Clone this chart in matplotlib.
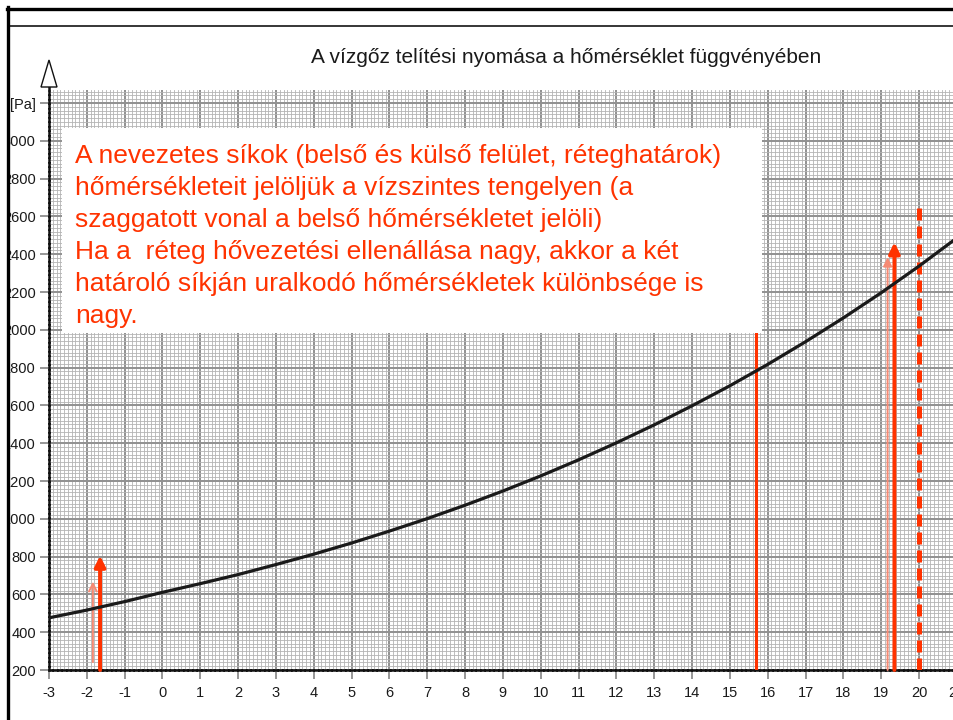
import matplotlib
matplotlib.use("Agg")
import matplotlib.pyplot as plt
from matplotlib.ticker import MultipleLocator
from matplotlib.patches import Rectangle, Polygon
from matplotlib.lines import Line2D

# ---- data ----
temps = [-3, -2, -1, 0, 1, 2, 3, 4, 5, 6, 7, 8, 9, 10, 11, 12, 13, 14, 15,
         16, 17, 18, 19, 20, 21]
pressure = [476, 517, 562, 611, 657, 705, 758, 813, 872, 935, 1001, 1072,
            1147, 1227, 1312, 1402, 1497, 1598, 1704, 1817, 1937, 2063,
            2196, 2337, 2486]
x_ticks = list(range(-3, 22))
x_labels = [str(t) for t in x_ticks]
y_ticks = list(range(200, 3201, 200))
y_labels = [str(v) for v in y_ticks[:-1]] + ["[Pa]"]

title = "A vízgőz telítési nyomása a hőmérséklet függvényében"
note_lines = [
    "A nevezetes síkok (belső és külső felület, réteghatárok)",
    "hőmérsékleteit jelöljük a vízszintes tengelyen (a",
    "szaggatott vonal a belső hőmérsékletet jelöli)",
    "Ha a  réteg hővezetési ellenállása nagy, akkor a két",
    "határoló síkján uralkodó hőmérsékletek különbsége is",
    "nagy.",
]

# marker lines
solid_x = 15.7
dashed_x = 20.0
dashed_top = 2670
arrows_thick = [(-1.65, 200, 805), (19.35, 200, 2463)]
arrow_thin_open = (-1.84, 242, 668)
arrow_thin_filled = (19.17, 200, 2384)

RED = "#ff3300"
LIGHT = "#f58a74"

W, H = 954, 720
plt.rcParams["font.family"] = ["Liberation Sans", "DejaVu Sans"]
fig = plt.figure(figsize=(W / 100, H / 100), dpi=100)

def fx(px):
    return px / W

def fy(py):
    return 1 - py / H

x0, x1 = -3, 21
px_left = 49
px_per = (919 - 49) / 23.0
px_right = px_left + (x1 - x0) * px_per
ax = fig.add_axes([fx(px_left), 50 / H, (px_right - px_left) / W, 580 / H])
ax.set_xlim(x0, x1)
ax.set_ylim(200, 3269)

ax.xaxis.set_minor_locator(MultipleLocator(0.1))
ax.yaxis.set_minor_locator(MultipleLocator(20))
ax.set_xticks(x_ticks)
ax.set_xticklabels(x_labels)
ax.set_yticks(y_ticks)
ax.set_yticklabels(y_labels)

ax.grid(which="minor", color="#b4b4b4", lw=0.6)
ax.grid(which="major", color="#919191", lw=1.4)
ax.set_axisbelow(True)
ax.tick_params(which="minor", length=0)
ax.tick_params(which="major", length=6.5, width=1.3, color="#8f8f8f",
               labelsize=10.5, labelcolor="#1a1a1a")
ax.tick_params(axis="y", pad=3)
ax.tick_params(axis="x", pad=5)

for s in ["top", "right"]:
    ax.spines[s].set_visible(False)
for s in ["left", "bottom"]:
    ax.spines[s].set_color("#111111")
    ax.spines[s].set_linewidth(1.8)
    ax.spines[s].set_linestyle((0, (1.2, 0.6)))

# curve
ax.plot(temps, pressure, color="#1a1a1a", lw=2.3, zorder=4)

# red markers
ax.plot([solid_x, solid_x], [200, 3000], color=RED, lw=2.2, zorder=3)
ax.plot([dashed_x, dashed_x], [200, dashed_top], color=RED, lw=3.6,
        dashes=(2.4, 1.2), zorder=3)
for xa, y0a, y1a in arrows_thick:
    ax.annotate("", xy=(xa, y1a), xytext=(xa, y0a),
                arrowprops=dict(arrowstyle="-|>", color=RED, lw=2.8,
                                mutation_scale=16, shrinkA=0, shrinkB=0),
                zorder=3)
xa, y0a, y1a = arrow_thin_open
ax.annotate("", xy=(xa, y1a), xytext=(xa, y0a),
            arrowprops=dict(arrowstyle="->", color=LIGHT, lw=1.4,
                            mutation_scale=14, shrinkA=0, shrinkB=0),
            zorder=3)
xa, y0a, y1a = arrow_thin_filled
ax.annotate("", xy=(xa, y1a), xytext=(xa, y0a),
            arrowprops=dict(arrowstyle="-|>", color=LIGHT, lw=1.4,
                            mutation_scale=13, shrinkA=0, shrinkB=0),
            zorder=3)

# white note box
fig.add_artist(Rectangle((fx(62), fy(333)), fx(762) - fx(62), fy(128) - fy(333),
                         transform=fig.transFigure, facecolor="white",
                         edgecolor="none", zorder=5))
for i, line in enumerate(note_lines):
    fig.text(fx(75), fy(163 + 32 * i), line, color=RED, fontsize=19,
             va="baseline", ha="left", zorder=6)

# title
fig.text(fx(566), fy(63), title, fontsize=15, color="#1a1a1a",
         ha="center", va="baseline")

# y-axis arrow head
fig.add_artist(Line2D([fx(49), fx(49)], [fy(90), fy(86)], color="#111111",
                      lw=1.8, transform=fig.transFigure))
fig.add_artist(Polygon([(fx(41), fy(87)), (fx(57), fy(87)), (fx(49), fy(60))],
                       closed=True, transform=fig.transFigure,
                       facecolor="white", edgecolor="#111111", lw=1.0,
                       zorder=5))

# frame: white strip + borders
fig.add_artist(Rectangle((0, 0), fx(7), 1, transform=fig.transFigure,
                         facecolor="white", edgecolor="none", zorder=7))
fig.add_artist(Line2D([fx(8), fx(8)], [0, fy(7)], color="black", lw=2.4,
                      transform=fig.transFigure, zorder=8))
fig.add_artist(Line2D([fx(7), 1], [fy(8.5), fy(8.5)], color="black", lw=2.4,
                      transform=fig.transFigure, zorder=8))
fig.add_artist(Line2D([fx(9), 1], [fy(26), fy(26)], color="black", lw=1.1,
                      transform=fig.transFigure, zorder=8))

fig.savefig("out.png", dpi=100, facecolor="white")
